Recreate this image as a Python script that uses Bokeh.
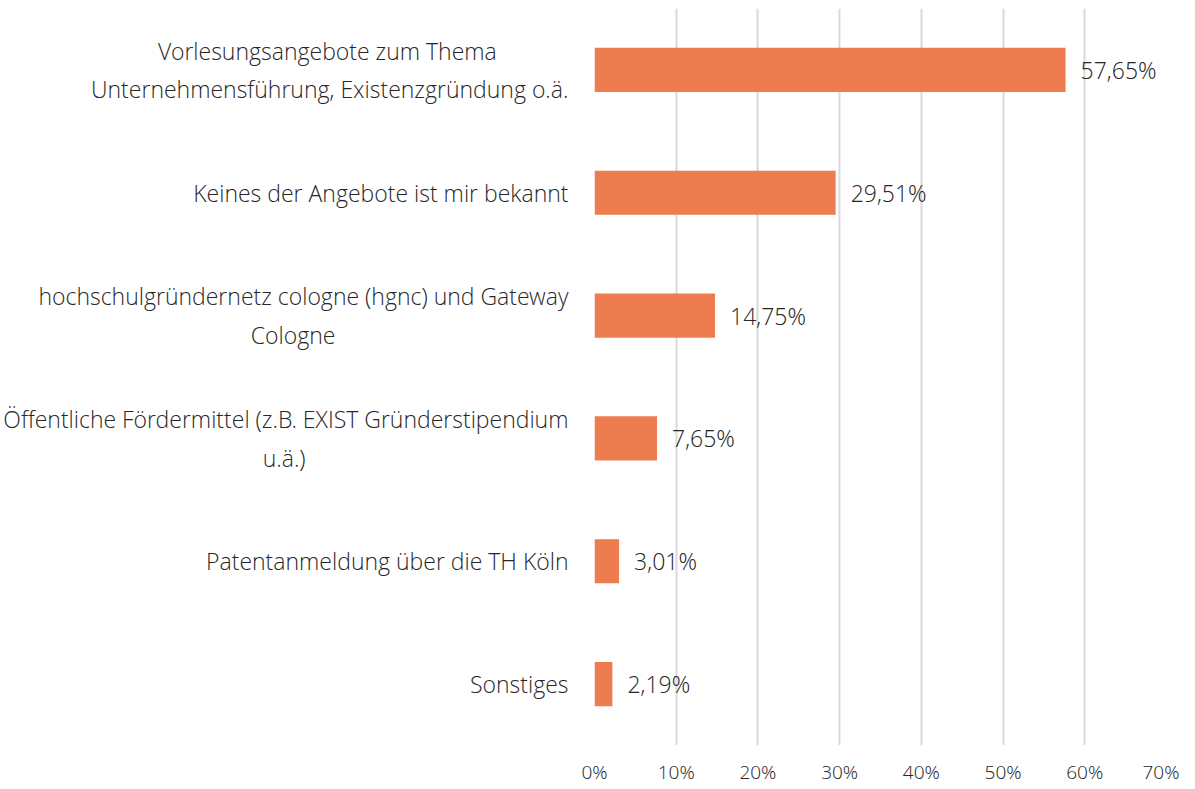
from bokeh.plotting import figure
from bokeh.models import NumeralTickFormatter, FixedTicker, ColumnDataSource, Range1d
from bokeh.core.properties import value
from bokeh.embed import file_html
from bokeh.resources import INLINE

NB = "\u00a0"
END = "\u200b"
categories = [
    "Vorlesungsangebote zum Thema\nUnternehmensführung, Existenzgründung o.ä.",
    "Keines der Angebote ist mir bekannt",
    "hochschulgründernetz cologne (hgnc) und Gateway\nCologne",
    "Öffentliche Fördermittel (z.B. EXIST Gründerstipendium\nu.ä.)",
    "Patentanmeldung über die TH Köln",
    "Sonstiges",
]
values = [0.5765, 0.2951, 0.1475, 0.0765, 0.0301, 0.0219]
x_ticks = [0, 0.1, 0.2, 0.3, 0.4, 0.5, 0.6, 0.7]
# trailing no-break spaces so that the lines of a two-line label look centred
pad_first = [12, 0, 0, 0, 0, 0]
pad_second = [0, 0, 39, 44, 0, 0]


def padded(label, a, b):
    lines = label.split("\n")
    if a:
        lines[0] = lines[0] + NB * a + END
    if len(lines) > 1 and b:
        lines[1] = lines[1] + NB * b + END
    return "\n".join(lines)


factors = [padded(c, a, b) for c, a, b in zip(categories, pad_first, pad_second)]
labels = [("%.2f%%" % (v * 100)).replace(".", ",") for v in values]
src = ColumnDataSource(dict(cat=factors, val=values, lab=labels))

FONT = "Open Sans Light"
TXT = "#262626"

p = figure(
    width=1179, height=787,
    y_range=list(reversed(factors)),
    x_range=Range1d(0, 0.7),
    output_backend="svg", toolbar_location=None,
    min_border_left=593, min_border_right=13, min_border_top=8, min_border_bottom=37,
)
p.outline_line_color = None
p.background_fill_color = "white"

p.hbar(y="cat", right="val", left=0, height=0.36, source=src,
       fill_color="#ED7D4F", line_color=None)
p.text(x="val", y="cat", text="lab", source=src, x_offset=15,
       text_baseline="middle", text_align="left", text_font=value(FONT),
       text_font_size="23px", text_color=TXT)

p.xaxis.ticker = FixedTicker(ticks=x_ticks)
p.xaxis.formatter = NumeralTickFormatter(format="0%")
p.xaxis.axis_line_color = None
p.xaxis.major_tick_line_color = None
p.xaxis.minor_tick_line_color = None
p.xaxis.major_tick_out = 0
p.xaxis.major_tick_in = 0
p.xaxis.major_label_text_font = FONT
p.xaxis.major_label_text_font_size = "19px"
p.xaxis.major_label_text_color = TXT
p.xaxis.major_label_standoff = 13

p.yaxis.axis_line_color = None
p.yaxis.major_tick_line_color = None
p.yaxis.minor_tick_line_color = None
p.yaxis.major_tick_out = 0
p.yaxis.major_tick_in = 0
p.yaxis.major_label_text_font = FONT
p.yaxis.major_label_text_font_size = "23px"
p.yaxis.major_label_text_color = TXT
p.yaxis.major_label_standoff = 26

p.ygrid.grid_line_color = None
p.xgrid.grid_line_color = "#D9D9D9"
p.xgrid.grid_line_width = 2

open("out.html", "w").write(file_html(p, INLINE))
